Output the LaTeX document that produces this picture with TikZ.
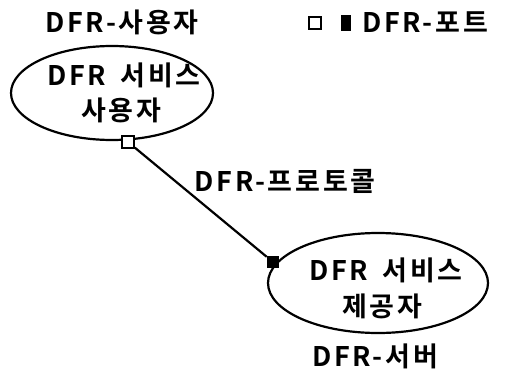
\documentclass[tikz,border=0pt]{standalone}
\usepackage{fontspec}
\setmainfont{Noto Sans CJK KR Bold}[LetterSpace=10]
\usetikzlibrary{shapes.geometric}
\begin{document}
\begin{tikzpicture}[x=1pt,y=-1pt,
  lbl/.style={font=\fontsize{27}{30}\selectfont, inner sep=0pt},
  blob/.style={draw, ellipse, line width=2.2pt, inner sep=0pt},
  openport/.style={draw, line width=1.6pt, fill=white, minimum size=12pt, inner sep=0pt},
  fullport/.style={draw, line width=1.6pt, fill=black, minimum size=11pt, inner sep=0pt},
  conn/.style={line width=2.2pt}]
\useasboundingbox (0,0) rectangle (510,369);
\node[lbl] (ulabel) at (122,22) {DFR-사용자};
\node[blob, minimum width=202pt, minimum height=94pt] (user) at (112,93) {};
\node[lbl] (user1) at (124,75) {DFR\hspace{6pt} 서비스};
\node[lbl] (user2) at (121,110) {사용자};
\node[blob, minimum width=220pt, minimum height=100pt] (prov) at (378,283) {};
\node[lbl] (prov1) at (386,270) {DFR\hspace{6pt} 서비스};
\node[lbl] (prov2) at (382,306) {제공자};
\node[lbl] (slabel) at (375,356) {DFR-서버};
\node[lbl] (plabel) at (285,181) {DFR-프로토콜};
\node[openport] (p1) at (128,142) {};
\node[fullport] (p2) at (273,262) {};
\draw[conn] (p1) -- (p2);
\node[openport] (k1) at (315,23) {};
\node[fullport, minimum width=9pt, minimum height=14pt] (k2) at (346,23) {};
\node[lbl, anchor=west] (klabel) at (362,22) {DFR-포트};
\end{tikzpicture}
\end{document}
